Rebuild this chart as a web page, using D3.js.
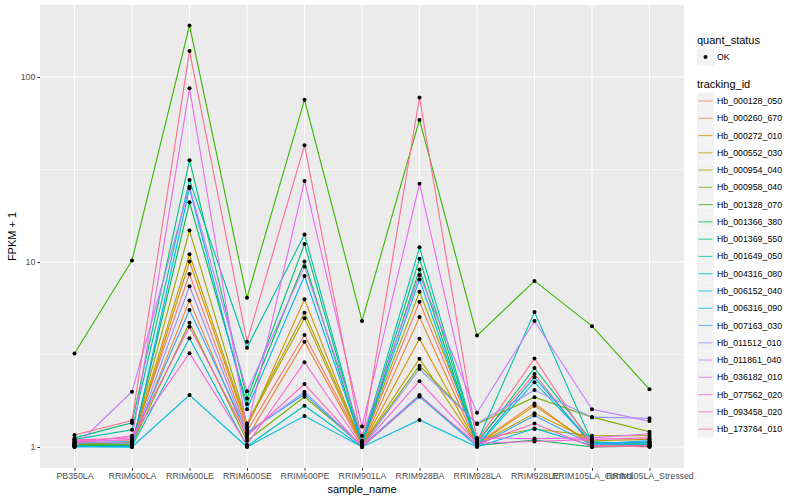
<!DOCTYPE html>
<html>
<head>
<meta charset="utf-8">
<script src="https://cdn.jsdelivr.net/npm/d3@7"></script>
<style>
  body { margin: 0; background: #fff; }
  text { font-family: "Liberation Sans", Arial, sans-serif; }
</style>
</head>
<body>
<div id="chart"></div>
<script>
// Step 1: data
// =================================
var samples = ["PB350LA", "RRIM600LA", "RRIM600LE", "RRIM600SE", "RRIM600PE", "RRIM901LA",
  "RRIM928BA", "RRIM928LA", "RRIM928LE", "RRIM105LA_Control", "RRIM105LA_Stressed"];

var trackingIds = ["Hb_000128_050", "Hb_000260_670", "Hb_000272_010", "Hb_000552_030",
  "Hb_000954_040", "Hb_000958_040", "Hb_001328_070", "Hb_001366_380", "Hb_001369_550",
  "Hb_001649_050", "Hb_004316_080", "Hb_006152_040", "Hb_006316_090", "Hb_007163_030",
  "Hb_011512_010", "Hb_011861_040", "Hb_036182_010", "Hb_077562_020", "Hb_093458_020",
  "Hb_173764_010"];

// FPKM + 1, one row per tracking_id, same order as samples
var fpkm = [
  [1.08, 1.08, 8.6, 1.22, 4.03, 1.04, 6.1, 1.07, 2.48, 1.01, 1.01],
  [1.03, 1.02, 6.2, 1.12, 3.71, 1.02, 5.04, 1.04, 1.72, 1.01, 1.02],
  [1.02, 1.03, 10.05, 1.28, 6.28, 1.02, 3.85, 1.03, 1.67, 1.04, 1.03],
  [1.03, 1.06, 11.0, 1.32, 4.96, 1.03, 3.0, 1.03, 1.52, 1.08, 1.1],
  [1.04, 1.05, 14.8, 1.34, 5.32, 1.05, 6.9, 1.1, 1.25, 1.15, 1.15],
  [1.04, 1.03, 4.7, 1.08, 1.87, 1.02, 2.75, 1.33, 1.86, 1.45, 1.21],
  [3.2, 10.2, 190, 6.4, 75.2, 4.8, 58.6, 4.0, 7.9, 4.5, 2.05],
  [1.02, 1.02, 21, 1.71, 10.05, 1.03, 9.1, 1.02, 1.09, 1.0, 1.01],
  [1.12, 1.35, 35.5, 1.83, 12.5, 1.05, 10.4, 1.05, 2.67, 1.07, 1.03],
  [1.1, 1.24, 27.7, 3.44, 14.1, 1.06, 12.0, 1.06, 5.36, 1.06, 1.05],
  [1.01, 1.01, 3.87, 1.01, 1.67, 1.0, 1.87, 1.01, 2.24, 1.05, 1.06],
  [1.0, 1.0, 1.91, 1.0, 1.47, 1.0, 1.4, 1.0, 1.26, 1.02, 1.04],
  [1.01, 1.0, 25, 1.6, 8.4, 1.04, 8.05, 1.02, 2.38, 1.04, 1.08],
  [1.05, 1.07, 5.5, 1.2, 1.93, 1.01, 1.91, 1.01, 1.48, 1.03, 1.07],
  [1.07, 1.04, 7.4, 1.18, 1.99, 1.01, 2.64, 1.34, 2.03, 1.45, 1.43],
  [1.0, 1.99, 25.5, 2.0, 9.44, 1.15, 8.5, 1.53, 4.8, 1.6, 1.38],
  [1.06, 1.1, 87, 1.25, 27.4, 1.29, 26.5, 1.12, 1.11, 1.12, 1.18],
  [1.05, 1.15, 3.21, 1.03, 2.87, 1.01, 2.27, 1.05, 1.07, 1.1, 1.12],
  [1.09, 1.12, 4.47, 1.15, 2.19, 1.0, 1.89, 1.04, 1.34, 1.0, 1.02],
  [1.16, 1.39, 138, 3.71, 42.8, 1.08, 77.5, 1.08, 3.01, 1.02, 1.0]
];

var yTicks = [1, 10, 100];
var yMinor = [Math.sqrt(10), Math.sqrt(1000)];

// ggplot default hue palette for 20 levels
var palette = ["#F8766D", "#EA8331", "#D89000", "#C09B00", "#A3A500", "#7CAE00", "#39B600",
  "#00BB4E", "#00BF7D", "#00C1A3", "#00BFC4", "#00BAE0", "#00B0F6", "#35A2FF", "#9590FF",
  "#C77CFF", "#E76BF3", "#FA62DB", "#FF62BC", "#FF6C91"];

// Step 2: set up the chart
// =================================
var svgWidth = 800;
var svgHeight = 500;

var margin = { top: 5, right: 116, bottom: 32, left: 40 };
var width = svgWidth - margin.left - margin.right;
var height = svgHeight - margin.top - margin.bottom;

var svg = d3.select("#chart")
  .append("svg")
  .attr("width", svgWidth)
  .attr("height", svgHeight);

var chartGroup = svg.append("g")
  .attr("transform", `translate(${margin.left}, ${margin.top})`);

// Step 3: scales
// =================================
var color = d3.scaleOrdinal()
  .domain(trackingIds)
  .range(palette);

var step = width / (samples.length - 1 + 1.2);
var xScale = d3.scalePoint()
  .domain(samples)
  .range([0.6 * step, width - 0.6 * step]);

var yScale = d3.scaleLog()
  .domain([Math.pow(10, -0.1135), Math.pow(10, 2.389)])
  .range([height, 0]);

// panel + grid
chartGroup.append("rect")
  .attr("width", width)
  .attr("height", height)
  .attr("fill", "#EBEBEB");

chartGroup.selectAll(".minor")
  .data(yMinor)
  .enter()
  .append("line")
  .attr("x1", 0).attr("x2", width)
  .attr("y1", d => yScale(d)).attr("y2", d => yScale(d))
  .attr("stroke", "#fff")
  .attr("stroke-width", 0.55);

chartGroup.selectAll(".ymajor")
  .data(yTicks)
  .enter()
  .append("line")
  .attr("x1", 0).attr("x2", width)
  .attr("y1", d => yScale(d)).attr("y2", d => yScale(d))
  .attr("stroke", "#fff")
  .attr("stroke-width", 1.1);

chartGroup.selectAll(".xmajor")
  .data(samples)
  .enter()
  .append("line")
  .attr("x1", d => xScale(d)).attr("x2", d => xScale(d))
  .attr("y1", 0).attr("y2", height)
  .attr("stroke", "#fff")
  .attr("stroke-width", 1.1);

// Step 4: axes
// =================================
var bottomAxis = d3.axisBottom(xScale).tickSize(2.7).tickPadding(2.5);
var leftAxis = d3.axisLeft(yScale).tickValues(yTicks).tickFormat(d3.format("d")).tickSize(2.7).tickPadding(2);

var xAxisG = chartGroup.append("g")
  .attr("transform", `translate(0, ${height})`)
  .call(bottomAxis);

var yAxisG = chartGroup.append("g")
  .call(leftAxis);

[xAxisG, yAxisG].forEach(function (g) {
  g.select(".domain").remove();
  g.selectAll(".tick line").attr("stroke", "#333333").attr("stroke-width", 1);
  g.selectAll(".tick text")
    .attr("fill", "#4D4D4D")
    .attr("font-size", "8.8px")
    .attr("font-family", "Liberation Sans, Arial, sans-serif");
});

chartGroup.append("text")
  .attr("transform", "rotate(-90)")
  .attr("x", -height / 2)
  .attr("y", -margin.left + 16)
  .attr("text-anchor", "middle")
  .attr("font-size", "11px")
  .text("FPKM + 1");

chartGroup.append("text")
  .attr("x", width / 2)
  .attr("y", height + 25)
  .attr("text-anchor", "middle")
  .attr("font-size", "11px")
  .text("sample_name");

// Step 5: lines and points
// =================================
var line = d3.line()
  .x((d, i) => xScale(samples[i]))
  .y(d => yScale(d));

chartGroup.selectAll(".series")
  .data(fpkm)
  .enter()
  .append("path")
  .attr("d", d => line(d))
  .attr("fill", "none")
  .attr("stroke", (d, i) => color(trackingIds[i]))
  .attr("stroke-width", 1.1);

var points = [];
fpkm.forEach(function (row) {
  row.forEach(function (v, j) {
    points.push({ sample: samples[j], value: v });
  });
});

chartGroup.selectAll(".pt")
  .data(points)
  .enter()
  .append("circle")
  .attr("cx", d => xScale(d.sample))
  .attr("cy", d => yScale(d.value))
  .attr("r", 2)
  .attr("fill", "#000");

// Step 6: legend
// =================================
var legend = svg.append("g")
  .attr("transform", "translate(697, 0)");

legend.append("text")
  .attr("x", 0).attr("y", 44)
  .attr("font-size", "11px")
  .text("quant_status");

legend.append("rect")
  .attr("x", 0).attr("y", 48.5)
  .attr("width", 17).attr("height", 17)
  .attr("fill", "#F2F2F2");

legend.append("circle")
  .attr("cx", 8.5).attr("cy", 57)
  .attr("r", 2)
  .attr("fill", "#000");

legend.append("text")
  .attr("x", 20).attr("y", 60)
  .attr("font-size", "8.8px")
  .text("OK");

legend.append("text")
  .attr("x", 0).attr("y", 88)
  .attr("font-size", "11px")
  .text("tracking_id");

var keys = legend.selectAll(".key")
  .data(trackingIds)
  .enter()
  .append("g")
  .attr("transform", (d, i) => `translate(0, ${101 + i * 17.27})`);

keys.append("rect")
  .attr("x", 0).attr("y", -8.5)
  .attr("width", 17).attr("height", 17)
  .attr("fill", "#F2F2F2");

keys.append("line")
  .attr("x1", 1.5).attr("x2", 15.5)
  .attr("y1", 0).attr("y2", 0)
  .attr("stroke", d => color(d))
  .attr("stroke-opacity", 0.75)
  .attr("stroke-width", 1.1);

keys.append("text")
  .attr("x", 20).attr("y", 3)
  .attr("font-size", "8.8px")
  .text(d => d);
</script>
</body>
</html>
